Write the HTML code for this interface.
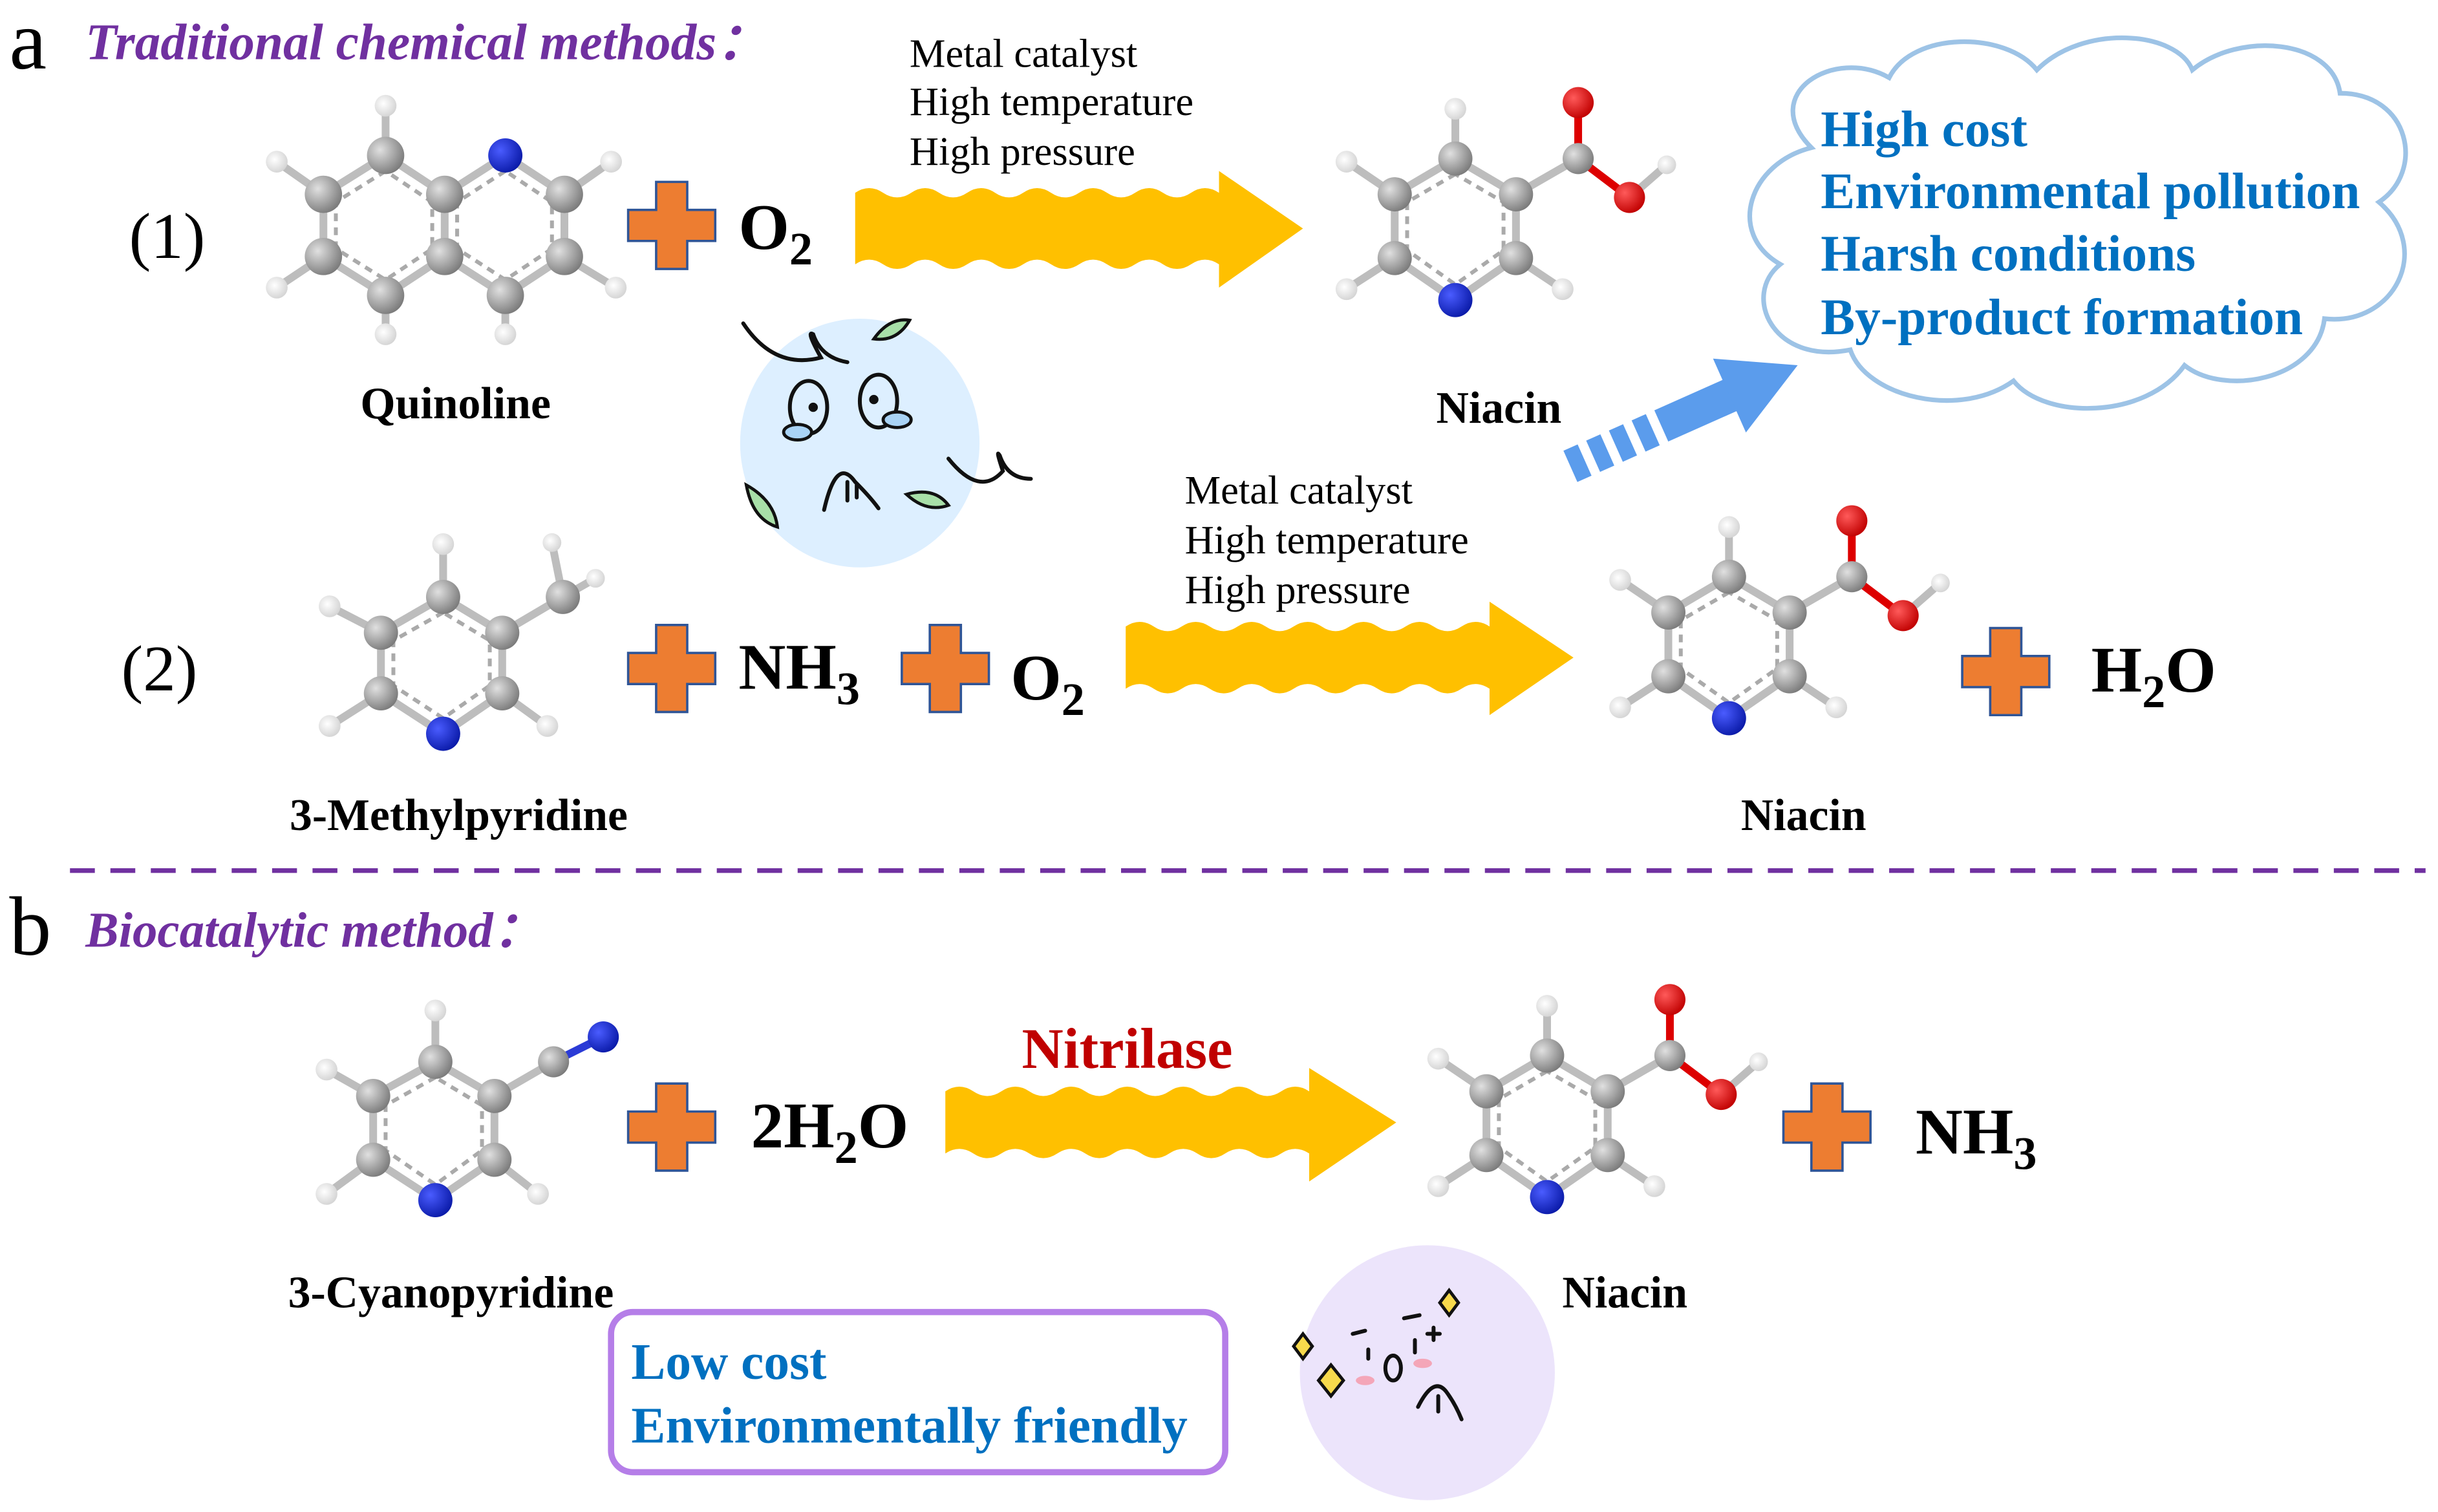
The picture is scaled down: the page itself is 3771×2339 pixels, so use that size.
<!DOCTYPE html>
<html><head><meta charset="utf-8"><style>html,body{margin:0;padding:0;background:#fff}svg{display:block}svg text{font-family:"Liberation Serif","Times New Roman",serif}</style></head>
<body>
<svg width="3771" height="2339" viewBox="0 0 1568 972.6" preserveAspectRatio="none" xmlns="http://www.w3.org/2000/svg">
<defs>
<radialGradient id="gC" cx="0.35" cy="0.35" r="0.7"><stop offset="0" stop-color="#e0e0e0"/><stop offset="1" stop-color="#7a7a7a"/></radialGradient>
<radialGradient id="gN" cx="0.35" cy="0.35" r="0.7"><stop offset="0" stop-color="#4a5cff"/><stop offset="1" stop-color="#0a1aa8"/></radialGradient>
<radialGradient id="gO" cx="0.35" cy="0.35" r="0.7"><stop offset="0" stop-color="#ff5a5a"/><stop offset="1" stop-color="#c00000"/></radialGradient>
<radialGradient id="gH" cx="0.4" cy="0.4" r="0.7"><stop offset="0" stop-color="#ffffff"/><stop offset="1" stop-color="#cfcfcf"/></radialGradient>
<g id="plus"><path d="M-10,-28 H10 V-10 H28 V10 H10 V28 H-10 V10 H-28 V-10 H-10 Z" fill="#ed7d31" stroke="#2f5597" stroke-width="1.5"/></g>
<g id="niacin">
 <g stroke="#bdbdbd" stroke-width="5">
  <line x1="936" y1="102" x2="897" y2="125"/><line x1="936" y1="102" x2="975" y2="125"/>
  <line x1="897" y1="125" x2="897" y2="166"/><line x1="975" y1="125" x2="975" y2="166"/>
  <line x1="897" y1="166" x2="936" y2="193"/><line x1="975" y1="166" x2="936" y2="193"/>
  <line x1="936" y1="102" x2="936" y2="70"/><line x1="897" y1="125" x2="866" y2="104"/>
  <line x1="897" y1="166" x2="866" y2="186"/><line x1="975" y1="166" x2="1005" y2="186"/>
  <line x1="975" y1="125" x2="1015" y2="102"/><line x1="1048" y1="127" x2="1072" y2="106"/>
 </g>
 <line x1="1015" y1="102" x2="1015" y2="66" stroke="#d00" stroke-width="5"/>
 <line x1="1015" y1="102" x2="1048" y2="127" stroke="#d00" stroke-width="5"/>
 <g stroke="#aaa" stroke-width="2.5" stroke-dasharray="5,4" fill="none"><polygon points="936,112 905,130 905,161 936,183 967,161 967,130"/></g>
 <g fill="url(#gH)"><circle cx="936" cy="70" r="7"/><circle cx="866" cy="104" r="7"/><circle cx="866" cy="186" r="7"/><circle cx="1005" cy="186" r="7"/><circle cx="1072" cy="106" r="6"/></g>
 <g fill="url(#gC)"><circle cx="936" cy="102" r="11"/><circle cx="897" cy="125" r="11"/><circle cx="975" cy="125" r="11"/><circle cx="897" cy="166" r="11"/><circle cx="975" cy="166" r="11"/><circle cx="1015" cy="102" r="10"/></g>
 <circle cx="936" cy="193" r="11" fill="url(#gN)"/>
 <circle cx="1015" cy="66" r="10" fill="url(#gO)"/><circle cx="1048" cy="127" r="10" fill="url(#gO)"/>
</g>
</defs>

<text x="6" y="44" font-size="54">a</text>
<text x="55" y="38" font-size="33" font-style="italic" font-weight="bold" fill="#7030a0">Traditional chemical methods：</text>
<text x="83" y="166" font-size="42">(1)</text>
<text x="78" y="444" font-size="42">(2)</text>

<g>
 <g stroke="#bdbdbd" stroke-width="5">
  <line x1="248" y1="100" x2="208" y2="125"/><line x1="248" y1="100" x2="286" y2="125"/><line x1="286" y1="125" x2="325" y2="100"/><line x1="325" y1="100" x2="363" y2="125"/>
  <line x1="208" y1="125" x2="208" y2="165"/><line x1="286" y1="125" x2="286" y2="165"/><line x1="363" y1="125" x2="363" y2="165"/>
  <line x1="208" y1="165" x2="248" y2="190"/><line x1="248" y1="190" x2="286" y2="165"/><line x1="286" y1="165" x2="325" y2="190"/><line x1="325" y1="190" x2="363" y2="165"/>
  <line x1="248" y1="100" x2="248" y2="68"/><line x1="208" y1="125" x2="178" y2="104"/><line x1="363" y1="125" x2="393" y2="104"/>
  <line x1="208" y1="165" x2="178" y2="185"/><line x1="363" y1="165" x2="396" y2="185"/><line x1="248" y1="190" x2="248" y2="215"/><line x1="325" y1="190" x2="325" y2="215"/>
 </g>
 <g stroke="#aaa" stroke-width="2.5" stroke-dasharray="5,4" fill="none">
  <polygon points="248,110 216,130 216,160 248,180 278,160 278,130"/><polygon points="325,110 294,130 294,160 325,180 355,160 355,130"/>
 </g>
 <g fill="url(#gH)"><circle cx="248" cy="68" r="7"/><circle cx="178" cy="104" r="7"/><circle cx="393" cy="104" r="7"/><circle cx="178" cy="185" r="7"/><circle cx="396" cy="185" r="7"/><circle cx="248" cy="215" r="7"/><circle cx="325" cy="215" r="7"/></g>
 <g fill="url(#gC)"><circle cx="248" cy="100" r="12"/><circle cx="208" cy="125" r="12"/><circle cx="286" cy="125" r="12"/><circle cx="363" cy="125" r="12"/><circle cx="208" cy="165" r="12"/><circle cx="286" cy="165" r="12"/><circle cx="363" cy="165" r="12"/><circle cx="248" cy="190" r="12"/><circle cx="325" cy="190" r="12"/></g>
 <circle cx="325" cy="100" r="11" fill="url(#gN)"/>
</g>
<text x="293" y="269" font-size="29" font-weight="bold" text-anchor="middle">Quinoline</text>

<use href="#plus" x="432" y="145"/>
<text x="475" y="160" font-size="42" font-weight="bold">O<tspan font-size="30" dy="10">2</tspan></text>

<text x="585" y="43" font-size="26">Metal catalyst</text>
<text x="585" y="74" font-size="26">High temperature</text>
<text x="585" y="106" font-size="26">High pressure</text>
<path d="M550,124 q9,-6 18,0 t18,0 t18,0 t18,0 t18,0 t18,0 t18,0 t18,0 t18,0 t18,0 t18,0 t18,0 t18,0 L784,124 L784,110 L838,147 L784,185 L784,170 q-9,-6 -18,0 t-18,0 t-18,0 t-18,0 t-18,0 t-18,0 t-18,0 t-18,0 t-18,0 t-18,0 t-18,0 t-18,0 t-18,0 Z" fill="#ffc000"/>

<use href="#niacin"/>
<text x="964" y="272" font-size="29" font-weight="bold" text-anchor="middle">Niacin</text>

<path d="M1165,95 C1130,60 1180,30 1215,50 C1230,20 1290,20 1310,45 C1340,15 1400,20 1410,45 C1440,20 1500,25 1505,60 C1550,60 1560,110 1530,130 C1565,160 1540,210 1495,205 C1490,245 1430,255 1405,235 C1380,270 1315,270 1295,245 C1260,270 1200,255 1190,225 C1140,235 1120,190 1145,170 C1110,150 1125,105 1165,95 Z" fill="#fff" stroke="#9dc3e6" stroke-width="3"/>
<g font-size="33" font-weight="bold" fill="#0070c0">
<text x="1171" y="94">High cost</text>
<text x="1171" y="134">Environmental pollution</text>
<text x="1171" y="174">Harsh conditions</text>
<text x="1171" y="215">By-product formation</text>
</g>
<g fill="#5b9cec" transform="translate(1010,300) rotate(-24)">
 <rect x="0" y="-11" width="10" height="22"/><rect x="16" y="-11" width="10" height="22"/><rect x="32" y="-11" width="10" height="22"/><rect x="48" y="-11" width="10" height="22"/>
 <rect x="64" y="-11" width="50" height="22"/><polygon points="112,-26 160,0 112,26"/>
</g>

<ellipse cx="553" cy="285" rx="77" ry="80" fill="#ddefff"/>
<g fill="none" stroke="#111" stroke-width="2.5" stroke-linecap="round">
 <path d="M478,208 q20,30 50,22 q-10,-18 -5,-15 q5,15 22,18"/>
 <path d="M610,295 q20,25 35,8 q-5,-15 -2,-10 q5,15 20,15"/>
 <ellipse cx="520" cy="262" rx="12" ry="17"/><ellipse cx="565" cy="258" rx="12" ry="17"/>
 <path d="M530,328 q8,-35 20,-18 q10,10 15,17"/><path d="M545,310 v12"/><path d="M551,312 v8"/>
</g>
<circle cx="523" cy="262" r="3" fill="#111"/><circle cx="562" cy="257" r="3" fill="#111"/>
<ellipse cx="513" cy="278" rx="9" ry="5" fill="#a9d3f5" stroke="#111" stroke-width="2"/><ellipse cx="577" cy="270" rx="9" ry="5" fill="#a9d3f5" stroke="#111" stroke-width="2"/>
<g fill="#a8dfa8" stroke="#111" stroke-width="2"><path d="M562,218 q10,-14 23,-12 q-8,14 -23,12z"/><path d="M480,312 q18,10 20,27 q-16,-5 -20,-27z"/><path d="M583,318 q18,-5 27,7 q-14,5 -27,-7z"/></g>

<g>
 <g stroke="#bdbdbd" stroke-width="5">
  <line x1="285" y1="384" x2="245" y2="407"/><line x1="285" y1="384" x2="323" y2="407"/><line x1="245" y1="407" x2="245" y2="446"/><line x1="323" y1="407" x2="323" y2="446"/>
  <line x1="245" y1="446" x2="285" y2="472"/><line x1="323" y1="446" x2="285" y2="472"/><line x1="323" y1="407" x2="362" y2="384"/>
  <line x1="285" y1="384" x2="285" y2="350"/><line x1="245" y1="407" x2="212" y2="390"/><line x1="245" y1="446" x2="212" y2="467"/><line x1="323" y1="446" x2="352" y2="467"/>
  <line x1="362" y1="384" x2="355" y2="349"/><line x1="362" y1="384" x2="383" y2="372"/>
 </g>
 <polygon points="285,394 253,412 253,441 285,462 315,441 315,412" fill="none" stroke="#aaa" stroke-width="2.5" stroke-dasharray="5,4"/>
 <g fill="url(#gH)"><circle cx="285" cy="350" r="7"/><circle cx="212" cy="390" r="7"/><circle cx="212" cy="467" r="7"/><circle cx="352" cy="467" r="7"/><circle cx="355" cy="349" r="6"/><circle cx="383" cy="372" r="6"/></g>
 <g fill="url(#gC)"><circle cx="285" cy="384" r="11"/><circle cx="245" cy="407" r="11"/><circle cx="323" cy="407" r="11"/><circle cx="245" cy="446" r="11"/><circle cx="323" cy="446" r="11"/><circle cx="362" cy="384" r="11"/></g>
 <circle cx="285" cy="472" r="11" fill="url(#gN)"/>
</g>
<text x="295" y="534" font-size="29" font-weight="bold" text-anchor="middle">3-Methylpyridine</text>
<use href="#plus" x="432" y="430"/>
<text x="475" y="443" font-size="42" font-weight="bold">NH<tspan font-size="30" dy="10">3</tspan></text>
<use href="#plus" x="608" y="430"/>
<text x="650" y="450" font-size="42" font-weight="bold">O<tspan font-size="30" dy="10">2</tspan></text>
<text x="762" y="324" font-size="26">Metal catalyst</text>
<text x="762" y="356" font-size="26">High temperature</text>
<text x="762" y="388" font-size="26">High pressure</text>
<path d="M724,403 q9,-6 18,0 t18,0 t18,0 t18,0 t18,0 t18,0 t18,0 t18,0 t18,0 t18,0 t18,0 t18,0 t18,0 L958,403 L958,387 L1012,423 L958,460 L958,443 q-9,-6 -18,0 t-18,0 t-18,0 t-18,0 t-18,0 t-18,0 t-18,0 t-18,0 t-18,0 t-18,0 t-18,0 t-18,0 t-18,0 Z" fill="#ffc000"/>
<use href="#niacin" x="176" y="269"/>
<text x="1160" y="534" font-size="29" font-weight="bold" text-anchor="middle">Niacin</text>
<use href="#plus" x="1290" y="432"/>
<text x="1345" y="445" font-size="42" font-weight="bold">H<tspan font-size="30" dy="10">2</tspan><tspan dy="-10">O</tspan></text>

<line x1="45" y1="560" x2="1560" y2="560" stroke="#7030a0" stroke-width="3" stroke-dasharray="16,10"/>

<text x="6" y="614" font-size="54">b</text>
<text x="55" y="609" font-size="32" font-style="italic" font-weight="bold" fill="#7030a0">Biocatalytic method：</text>

<g>
 <g stroke="#bdbdbd" stroke-width="5">
  <line x1="280" y1="683" x2="240" y2="705"/><line x1="280" y1="683" x2="318" y2="705"/><line x1="240" y1="705" x2="240" y2="746"/><line x1="318" y1="705" x2="318" y2="746"/>
  <line x1="240" y1="746" x2="280" y2="772"/><line x1="318" y1="746" x2="280" y2="772"/><line x1="318" y1="705" x2="356" y2="683"/>
  <line x1="280" y1="683" x2="280" y2="650"/><line x1="240" y1="705" x2="210" y2="688"/><line x1="240" y1="746" x2="210" y2="768"/><line x1="318" y1="746" x2="346" y2="768"/>
 </g>
 <line x1="356" y1="683" x2="388" y2="667" stroke="#2b3bd6" stroke-width="5"/>
 <polygon points="280,693 248,711 248,740 280,762 310,740 310,711" fill="none" stroke="#aaa" stroke-width="2.5" stroke-dasharray="5,4"/>
 <g fill="url(#gH)"><circle cx="280" cy="650" r="7"/><circle cx="210" cy="688" r="7"/><circle cx="210" cy="768" r="7"/><circle cx="346" cy="768" r="7"/></g>
 <g fill="url(#gC)"><circle cx="280" cy="683" r="11"/><circle cx="240" cy="705" r="11"/><circle cx="318" cy="705" r="11"/><circle cx="240" cy="746" r="11"/><circle cx="318" cy="746" r="11"/><circle cx="356" cy="683" r="10"/></g>
 <circle cx="280" cy="772" r="11" fill="url(#gN)"/><circle cx="388" cy="667" r="10" fill="url(#gN)"/>
</g>
<text x="290" y="841" font-size="29" font-weight="bold" text-anchor="middle">3-Cyanopyridine</text>
<use href="#plus" x="432" y="725"/>
<text x="483" y="738" font-size="42" font-weight="bold">2H<tspan font-size="30" dy="10">2</tspan><tspan dy="-10">O</tspan></text>
<text x="725" y="687" font-size="37" font-weight="bold" fill="#c00000" text-anchor="middle">Nitrilase</text>
<path d="M608,702 q9,-6 18,0 t18,0 t18,0 t18,0 t18,0 t18,0 t18,0 t18,0 t18,0 t18,0 t18,0 t18,0 t18,0 L842,702 L842,687 L898,722 L842,760 L842,742 q-9,-6 -18,0 t-18,0 t-18,0 t-18,0 t-18,0 t-18,0 t-18,0 t-18,0 t-18,0 t-18,0 t-18,0 t-18,0 t-18,0 Z" fill="#ffc000"/>
<use href="#niacin" x="59" y="577"/>
<text x="1045" y="841" font-size="29" font-weight="bold" text-anchor="middle">Niacin</text>
<use href="#plus" x="1175" y="725"/>
<text x="1232" y="742" font-size="42" font-weight="bold">NH<tspan font-size="30" dy="10">3</tspan></text>

<rect x="393" y="844" width="395" height="103" rx="14" fill="#fff" stroke="#b57ee8" stroke-width="4"/>
<text x="406" y="887" font-size="33" font-weight="bold" fill="#0070c0">Low cost</text>
<text x="406" y="928" font-size="33" font-weight="bold" fill="#0070c0">Environmentally friendly</text>

<circle cx="918" cy="883" r="82" fill="#ece4fb"/>
<g fill="none" stroke="#111" stroke-width="2.5" stroke-linecap="round">
 <path d="M870,858 l8,-2"/><path d="M903,848 l10,-2"/>
 <ellipse cx="896" cy="880" rx="5" ry="8"/>
 <path d="M880,868 v6"/><path d="M910,862 v8"/>
 <path d="M912,905 q10,-20 18,-10 q6,8 10,18"/><path d="M925,898 v10"/>
 <path d="M918,858 h8 M922,854 v8"/>
</g>
<g fill="#f7d94c" stroke="#111" stroke-width="2"><path d="M832,866 l6,-8 l6,8 l-6,8z"/><path d="M848,888 l8,-10 l8,10 l-8,10z"/><path d="M926,838 l6,-8 l6,8 l-6,8z"/></g>
<g fill="#f4a6b8"><ellipse cx="878" cy="888" rx="6" ry="3"/><ellipse cx="915" cy="877" rx="6" ry="3"/></g>
</svg>
</body></html>
